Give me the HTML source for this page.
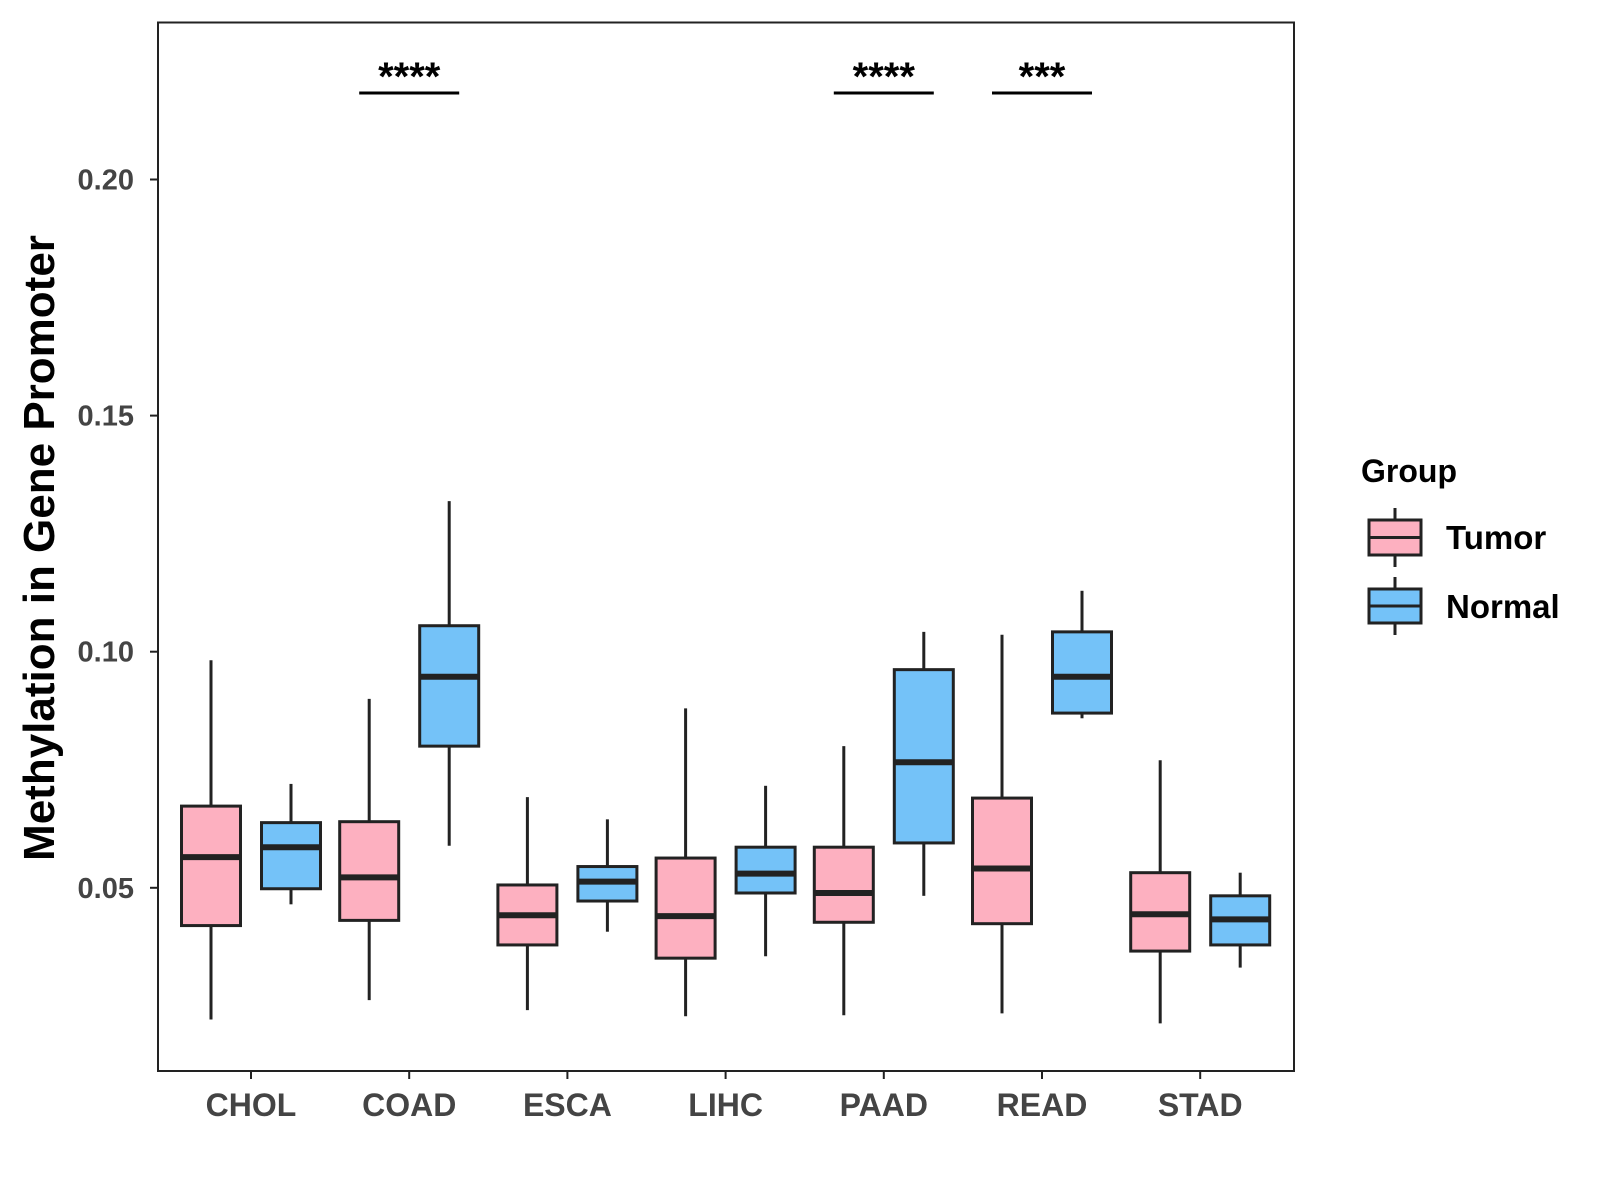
<!DOCTYPE html>
<html><head><meta charset="utf-8"><style>
html,body{margin:0;padding:0;background:#fff;}
svg{display:block;font-family:"Liberation Sans",Arial,sans-serif;}
</style></head><body>
<svg id="chart" width="1600" height="1200" viewBox="0 0 1600 1200">
<rect x="158" y="22.5" width="1136" height="1048.5" fill="#fff" stroke="#222" stroke-width="2"/>
<g id="yaxis"></g><g id="xaxis"></g><g id="boxes"></g><g id="sig"></g>
<text x="0" y="0" transform="translate(54,548) rotate(-90)" text-anchor="middle" font-size="44" font-weight="bold" fill="#000">Methylation in Gene Promoter</text>
<g>
<text x="1361" y="482" font-size="32" font-weight="bold" fill="#000">Group</text>
<g>
<line x1="1395" y1="508" x2="1395" y2="567" stroke="#222" stroke-width="3"/>
<rect x="1369" y="520" width="52" height="35" fill="#FDB0C0" stroke="#222" stroke-width="3"/>
<line x1="1369" y1="537.5" x2="1421" y2="537.5" stroke="#222" stroke-width="3"/>
<text x="1446" y="549" font-size="33" font-weight="bold" fill="#000">Tumor</text></g>
<g>
<line x1="1395" y1="577" x2="1395" y2="635" stroke="#222" stroke-width="3"/>
<rect x="1369" y="589" width="52" height="34" fill="#74C2F8" stroke="#222" stroke-width="3"/>
<line x1="1369" y1="606" x2="1421" y2="606" stroke="#222" stroke-width="3"/>
<text x="1446" y="618" font-size="33" font-weight="bold" fill="#000">Normal</text></g>
</g>
</svg>
<script>
const categories=["CHOL","COAD","ESCA","LIHC","PAAD","READ","STAD"];
const tumorStats=[[0.0221,0.042,0.0565,0.0673,0.0982],[0.0262,0.0431,0.0522,0.064,0.090],[0.0241,0.0379,0.0442,0.0506,0.0692],[0.0228,0.0351,0.044,0.0563,0.088],[0.023,0.0427,0.0489,0.0586,0.080],[0.0234,0.0424,0.0541,0.069,0.1036],[0.0213,0.0366,0.0444,0.0532,0.077]];
const normalStats=[[0.0465,0.0498,0.0586,0.0638,0.072],[0.0589,0.080,0.0947,0.1055,0.1319],[0.0407,0.0472,0.0513,0.0545,0.0645],[0.0355,0.0489,0.053,0.0586,0.0716],[0.0483,0.0595,0.0766,0.0962,0.1042],[0.0859,0.087,0.0947,0.1042,0.1129],[0.0331,0.0379,0.0433,0.0483,0.0532]];
const yTicks=[0.05,0.10,0.15,0.20];
const yTickLabels=["0.05","0.10","0.15","0.20"];
const sigCategories=["COAD","PAAD","READ"];
const sigLabels=["****","****","***"];
const NS="http://www.w3.org/2000/svg";
function y(v){return 887.8-(v-0.05)*4722;}
function x(i){return 251+i*158.2;}
function mk(tag,attrs,parent){const e=document.createElementNS(NS,tag);for(const k in attrs)e.setAttribute(k,attrs[k]);parent.appendChild(e);return e;}
const ya=document.getElementById('yaxis'),xa=document.getElementById('xaxis'),bx=document.getElementById('boxes'),sg=document.getElementById('sig');
yTicks.forEach((t,i)=>{
 const l=mk('line',{x1:150,x2:158,y1:y(t),y2:y(t),stroke:'#222','stroke-width':2},ya);
 
 
 const tx=mk('text',{x:134,y:y(t)+10,'text-anchor':'end','font-size':29,'font-weight':'bold',fill:'#444'},ya);
 tx.textContent=yTickLabels[i];
 
 
});
categories.forEach((c,i)=>{
 const l=mk('line',{x1:x(i),x2:x(i),y1:1071,y2:1079,stroke:'#222','stroke-width':2},xa);
 
 
 const tx=mk('text',{x:x(i),y:1116,'text-anchor':'middle','font-size':32,'font-weight':'bold',fill:'#444'},xa);
 tx.textContent=c;
 
 
});
function box(cx,s,fill,name){
 const g=mk('g',{},bx);
 
 
 const w=59;
 mk('line',{x1:cx,x2:cx,y1:y(s[0]),y2:y(s[1]),stroke:'#222','stroke-width':3},g);
 mk('line',{x1:cx,x2:cx,y1:y(s[3]),y2:y(s[4]),stroke:'#222','stroke-width':3},g);
 mk('rect',{x:cx-w/2,y:y(s[3]),width:w,height:y(s[1])-y(s[3]),fill:fill,stroke:'#222','stroke-width':3},g);
 mk('line',{x1:cx-w/2,x2:cx+w/2,y1:y(s[2]),y2:y(s[2]),stroke:'#222','stroke-width':6},g);
}
categories.forEach((c,i)=>{
 box(x(i)-40,tumorStats[i],'#FDB0C0','box-tumor-'+c.toLowerCase());
 box(x(i)+40,normalStats[i],'#74C2F8','box-normal-'+c.toLowerCase());
});
sigCategories.forEach((c,j)=>{
 const i=categories.indexOf(c);
 const l=mk('line',{x1:x(i)-50,x2:x(i)+50,y1:93,y2:93,stroke:'#000','stroke-width':3},sg);
 
 
 const t=mk('text',{x:x(i),y:90,'text-anchor':'middle','font-size':40,'font-weight':'bold',fill:'#000'},sg);
 t.textContent=sigLabels[j];
 
 
});
</script>
</body></html>
